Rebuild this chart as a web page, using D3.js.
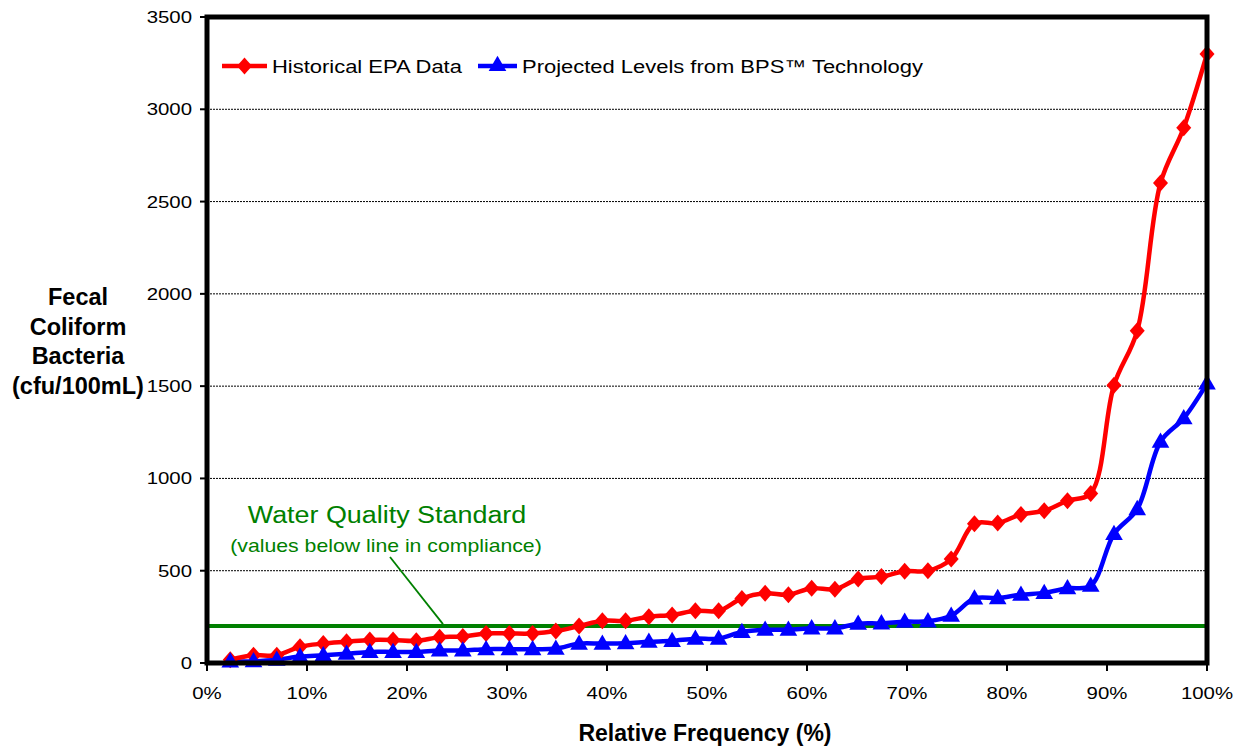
<!DOCTYPE html>
<html>
<head>
<meta charset="utf-8">
<script src="https://cdn.jsdelivr.net/npm/d3@7"></script>
<style>
  body { margin: 0; background: #fff; }
  svg { display: block; font-family: "Liberation Sans", Arial, sans-serif; }
</style>
</head>
<body>
<div id="chart"></div>
<script>
// relative frequency positions: 43 ranked samples, i/43
var rank = d3.range(1, 44);

var historical = [18, 42, 42, 88, 105, 115, 125, 125, 120, 140,
                  143, 160, 160, 160, 173, 200, 229, 229, 251, 260,
                  283, 283, 350, 378, 370, 405, 400, 455, 468, 497,
                  500, 563, 755, 758, 805, 825, 879, 919, 1505, 1800,
                  2600, 2900, 3300];

var projected = [8, 10, 18, 35, 42, 50, 60, 60, 60, 68,
                 68, 75, 75, 75, 78, 105, 105, 107, 115, 120,
                 132, 132, 168, 180, 180, 188, 188, 213, 215, 224,
                 226, 256, 350, 352, 370, 380, 405, 419, 699, 834,
                 1199, 1326, 1515];

var yTicks = [0, 500, 1000, 1500, 2000, 2500, 3000, 3500];
var xTicks = [0, 10, 20, 30, 40, 50, 60, 70, 80, 90, 100];
var standard = 200;

var seriesNames = ["Historical EPA Data", "Projected Levels from BPS\u2122 Technology"];

var width = 1242, height = 749;
var margin = {top: 17, right: 35, bottom: 86, left: 207};

var svg = d3.select("#chart").append("svg")
    .attr("width", width)
    .attr("height", height);

var x = d3.scaleLinear().domain([0, 100]).range([margin.left, width - margin.right]);
var y = d3.scaleLinear().domain([0, 3500]).range([height - margin.bottom, margin.top]);

var pct = function(i){ return i / 43 * 100; };

// stretched text helper (the original text is a bit wide)
function stext(sel, tx, ty, str, size, anchor, color, sx){
    var g = sel.append("g").attr("transform", "translate(" + tx + "," + ty + ") scale(" + (sx || 1.2) + ",1)");
    g.append("text")
        .attr("text-anchor", anchor || "start")
        .style("font-size", size + "px")
        .style("fill", color || "#000")
        .text(str);
    return g;
}

// dotted gridlines
svg.append("g").selectAll("line")
    .data(yTicks.filter(function(d){ return d > 0 && d < 3500; }))
    .enter().append("line")
    .attr("x1", x(0)).attr("x2", x(100))
    .attr("y1", function(d){ return y(d); })
    .attr("y2", function(d){ return y(d); })
    .attr("stroke", "#000")
    .attr("stroke-width", 1)
    .attr("stroke-dasharray", "2,1");

// y ticks + labels
svg.append("g").selectAll("line")
    .data(yTicks).enter().append("line")
    .attr("x1", x(0) - 7).attr("x2", x(0))
    .attr("y1", function(d){ return y(d); })
    .attr("y2", function(d){ return y(d); })
    .attr("stroke", "#000").attr("stroke-width", 2);
yTicks.forEach(function(d){
    stext(svg, x(0) - 15, y(d) + 6, d, 17, "end");
});

// x ticks + labels
svg.append("g").selectAll("line")
    .data(xTicks).enter().append("line")
    .attr("x1", function(d){ return x(d); })
    .attr("x2", function(d){ return x(d); })
    .attr("y1", y(0)).attr("y2", y(0) + 8)
    .attr("stroke", "#000").attr("stroke-width", 2);
xTicks.forEach(function(d){
    stext(svg, x(d), 699, d + "%", 17, "middle");
});

// water quality standard
svg.append("line")
    .attr("x1", x(0)).attr("x2", x(100))
    .attr("y1", y(standard)).attr("y2", y(standard))
    .attr("stroke", "#008000").attr("stroke-width", 4);

svg.append("line")
    .attr("x1", x(18.3)).attr("y1", y(574))
    .attr("x2", x(23.6)).attr("y2", y(standard) - 2)
    .attr("stroke", "#008000").attr("stroke-width", 1.8);

stext(svg, x(18), y(758), "Water Quality Standard", 23, "middle", "#008000", 1.17);
stext(svg, x(17.9), y(600), "(values below line in compliance)", 18, "middle", "#008000", 1.18);

// series
var line = d3.line()
    .x(function(d){ return x(pct(d[0])); })
    .y(function(d){ return y(d[1]); })
    .curve(d3.curveCatmullRom.alpha(0.5));

var histData = rank.map(function(r, i){ return [r, historical[i]]; });
var projData = rank.map(function(r, i){ return [r, projected[i]]; });

var diamond = "M0,-8.5L7.5,0L0,8.5L-7.5,0Z";
var triangle = d3.symbol().type(d3.symbolTriangle).size(135)();

svg.append("path").datum(projData)
    .attr("d", line).attr("fill", "none")
    .attr("stroke", "#0000ff").attr("stroke-width", 4.5);
svg.append("path").datum(histData)
    .attr("d", line).attr("fill", "none")
    .attr("stroke", "#ff0000").attr("stroke-width", 4.5);

svg.append("g").selectAll("path")
    .data(histData).enter().append("path")
    .attr("d", diamond)
    .attr("transform", function(d){ return "translate(" + x(pct(d[0])) + "," + y(d[1]) + ")"; })
    .attr("fill", "#ff0000");

svg.append("g").selectAll("path")
    .data(projData).enter().append("path")
    .attr("d", triangle)
    .attr("transform", function(d){ return "translate(" + x(pct(d[0])) + "," + (y(d[1]) + 1) + ")"; })
    .attr("fill", "#0000ff");

// frame
svg.append("rect")
    .attr("x", x(0)).attr("y", y(3500))
    .attr("width", x(100) - x(0))
    .attr("height", y(0) - y(3500))
    .attr("fill", "none")
    .attr("stroke", "#000")
    .attr("stroke-width", 5);

// legend
var legend = svg.append("g");
var lg = [
    {name: seriesNames[0], color: "#ff0000", x1: 222, x2: 267, mark: diamond},
    {name: seriesNames[1], color: "#0000ff", x1: 478, x2: 517, mark: triangle}
];
lg.forEach(function(d){
    legend.append("line")
        .attr("x1", d.x1).attr("x2", d.x2)
        .attr("y1", 66).attr("y2", 66)
        .attr("stroke", d.color).attr("stroke-width", 4.5);
    legend.append("path")
        .attr("d", d.mark)
        .attr("transform", "translate(" + (d.x1 + d.x2) / 2 + ",66)")
        .attr("fill", d.color);
    stext(legend, d.x2 + 5, 73, d.name, 18.3, "start");
});

// axis titles
svg.append("text")
    .attr("x", 705).attr("y", 741)
    .attr("text-anchor", "middle")
    .style("font-size", "23px")
    .style("font-weight", "bold")
    .text("Relative Frequency (%)");

var yTitle = ["Fecal", "Coliform", "Bacteria", "(cfu/100mL)"];
svg.append("text")
    .attr("text-anchor", "middle")
    .style("font-size", "23.5px")
    .style("font-weight", "bold")
    .selectAll("tspan")
    .data(yTitle).enter().append("tspan")
    .attr("x", 78)
    .attr("y", function(d, i){ return 305 + i * 29.5; })
    .text(function(d){ return d; });
</script>
</body>
</html>
